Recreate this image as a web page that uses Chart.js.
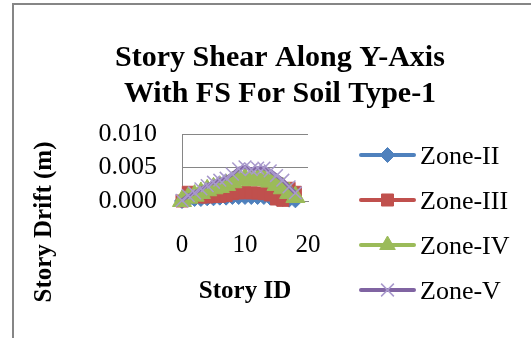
<!DOCTYPE html>
<html>
<head>
<meta charset="utf-8">
<script src="https://cdn.jsdelivr.net/npm/chart.js@4/dist/chart.umd.min.js"></script>
<style>
  html, body { margin: 0; padding: 0; background: #ffffff; }
  #wrap { width: 531px; height: 338px; position: relative; }
</style>
</head>
<body>
<div id="wrap"><canvas id="c" width="531" height="338"></canvas></div>
<script>
// Story drift (m) per story, one array per seismic zone
const storyIds = [0, 1, 2, 3, 4, 5, 6, 7, 8, 9, 10, 11, 12, 13, 14, 15, 16, 17, 18];
const zoneII  = [0.0000, 0.0002, 0.0003, 0.0003, 0.0004, 0.0004, 0.0005, 0.0005, 0.0006, 0.0006, 0.0006, 0.0006, 0.0006, 0.0006, 0.0005, 0.0004, 0.0003, 0.0002, 0.0001];
const zoneIII = [0.0000, 0.0013, 0.0007, 0.0006, 0.0006, 0.0007, 0.0007, 0.0008, 0.0011, 0.0012, 0.0013, 0.0012, 0.0012, 0.0011, 0.0009, 0.0003, 0.0001, 0.0019, 0.0013];
const zoneIV  = [0.0000, 0.0005, 0.0008, 0.0012, 0.0016, 0.0019, 0.0021, 0.0024, 0.0028, 0.0032, 0.0033, 0.0031, 0.0032, 0.0032, 0.0029, 0.0024, 0.0019, 0.0012, 0.0006];
const zoneV   = [0.0001, 0.0008, 0.0012, 0.0018, 0.0023, 0.0028, 0.0031, 0.0034, 0.0040, 0.0048, 0.0051, 0.0047, 0.0049, 0.0049, 0.0045, 0.0038, 0.0031, 0.0021, 0.0012];

const seriesNames = ['Zone-II', 'Zone-III', 'Zone-IV', 'Zone-V'];
const yTicks = [0, 0.005, 0.010];
const xTicks = [0, 10, 20];
const titleLines = ['Story Shear Along Y-Axis', 'With FS For Soil Type-1'];
const xTitle = 'Story ID';
const yTitle = 'Story Drift (m)';

const SERIF = "'Liberation Serif', 'Times New Roman', serif";
const GRID = '#868686';

function pairs(vals) { return storyIds.map((s, i) => ({ x: s, y: vals[i] })); }

const styles = [
  { color: '#4F81BD', point: 'rectRot',  radius: 7.5, pointColor: '#4F81BD', pbw: 1 },
  { color: '#C0504D', point: 'rect',     radius: 8.5, pointColor: '#C0504D', pbw: 1 },
  { color: '#9BBB59', point: 'triangle', radius: 11,  pointColor: '#9BBB59', pbw: 1 },
  { color: '#8064A2', point: 'crossRot', radius: 9,   pointColor: '#A899CC', pbw: 1.5 }
];
const seriesValues = [zoneII, zoneIII, zoneIV, zoneV];

const datasets = seriesValues.map((vals, i) => ({
  label: seriesNames[i],
  data: pairs(vals),
  borderColor: styles[i].color,
  backgroundColor: styles[i].color,
  borderWidth: 4,
  pointStyle: styles[i].point,
  pointRadius: styles[i].radius,
  pointBackgroundColor: styles[i].pointColor,
  pointBorderColor: styles[i].pointColor,
  pointBorderWidth: styles[i].pbw,
  tension: 0,
  clip: false,
  order: 3 - i
}));

// Legend marker drawing (same shapes as the series markers)
function marker(ctx, st, x, y) {
  const r = st.radius;
  ctx.save();
  ctx.fillStyle = st.pointColor;
  ctx.strokeStyle = st.pointColor;
  ctx.lineWidth = st.pbw;
  ctx.beginPath();
  if (st.point === 'rectRot') {
    ctx.moveTo(x, y - r); ctx.lineTo(x + r, y); ctx.lineTo(x, y + r); ctx.lineTo(x - r, y); ctx.closePath();
    ctx.fill(); ctx.stroke();
  } else if (st.point === 'rect') {
    const s = r * Math.SQRT1_2;
    ctx.rect(x - s, y - s, 2 * s, 2 * s); ctx.fill(); ctx.stroke();
  } else if (st.point === 'triangle') {
    ctx.moveTo(x, y - r);
    ctx.lineTo(x + r * Math.sin(Math.PI * 2 / 3), y - r * Math.cos(Math.PI * 2 / 3));
    ctx.lineTo(x - r * Math.sin(Math.PI * 2 / 3), y - r * Math.cos(Math.PI * 2 / 3));
    ctx.closePath(); ctx.fill(); ctx.stroke();
  } else {
    const d = r * Math.SQRT1_2;
    ctx.moveTo(x - d, y - d); ctx.lineTo(x + d, y + d);
    ctx.moveTo(x + d, y - d); ctx.lineTo(x - d, y + d);
    ctx.stroke();
  }
  ctx.restore();
}

const decorations = {
  id: 'decorations',
  beforeDraw(chart) {
    const ctx = chart.ctx;
    ctx.save();
    ctx.fillStyle = '#ffffff';
    ctx.fillRect(0, 0, chart.width, chart.height);
    ctx.strokeStyle = GRID;
    ctx.lineWidth = 2;
    ctx.beginPath();
    ctx.moveTo(13, chart.height + 2); ctx.lineTo(13, 4); ctx.lineTo(chart.width + 2, 4);
    ctx.stroke();
    ctx.restore();
  },
  afterDraw(chart) {
    const ctx = chart.ctx;
    const area = chart.chartArea;
    ctx.save();
    ctx.fillStyle = '#000000';
    // chart title
    ctx.font = 'bold 30px ' + SERIF;
    ctx.textAlign = 'center';
    ctx.textBaseline = 'alphabetic';
    ctx.fillText(titleLines[0], 280, 66);
    ctx.fillText(titleLines[1], 280, 102);
    // axis titles
    ctx.font = 'bold 25px ' + SERIF;
    ctx.fillText(xTitle, (area.left + area.right) / 2, 298);
    ctx.save();
    ctx.translate(51, 222);
    ctx.rotate(-Math.PI / 2);
    ctx.fillText(yTitle, 0, 0);
    ctx.restore();
    // legend
    ctx.font = '26px ' + SERIF;
    ctx.textAlign = 'left';
    const rows = [155, 200, 245, 290];
    seriesNames.forEach((name, i) => {
      const y = rows[i];
      const st = Object.assign({}, styles[i], { radius: Math.min(styles[i].radius, 9) });
      ctx.save();
      ctx.strokeStyle = st.color;
      ctx.lineWidth = 4;
      ctx.lineCap = 'round';
      ctx.beginPath(); ctx.moveTo(361, y); ctx.lineTo(414, y); ctx.stroke();
      ctx.restore();
      marker(ctx, st, 387.5, y);
      ctx.fillStyle = '#000000';
      ctx.fillText(name, 420, y + 8.5);
    });
    ctx.restore();
  }
};

new Chart(document.getElementById('c'), {
  type: 'line',
  data: { datasets },
  plugins: [decorations],
  options: {
    responsive: false,
    animation: false,
    devicePixelRatio: 1,
    layout: { padding: { left: 0, top: 134, right: 223, bottom: 0 } },
    plugins: { legend: { display: false }, title: { display: false }, tooltip: { enabled: false } },
    scales: {
      x: {
        type: 'linear',
        min: 0, max: 20,
        afterFit(scale) { scale.height = 137; },
        afterBuildTicks(scale) { scale.ticks = xTicks.map(v => ({ value: v })); },
        grid: { display: false, drawTicks: false },
        border: { display: true, color: GRID, width: 1 },
        ticks: { color: '#000', font: { family: SERIF, size: 25 }, padding: 29, maxRotation: 0, autoSkip: false }
      },
      y: {
        type: 'linear',
        min: 0, max: 0.010,
        afterFit(scale) { scale.width = 182; },
        afterBuildTicks(scale) { scale.ticks = yTicks.map(v => ({ value: v })); },
        grid: { color: GRID, lineWidth: 1, drawTicks: false },
        border: { display: true, color: GRID, width: 1 },
        ticks: { color: '#000', font: { family: SERIF, size: 26 }, padding: 25, autoSkip: false,
                 callback: v => Number(v).toFixed(3) }
      }
    }
  }
});
</script>
</body>
</html>
